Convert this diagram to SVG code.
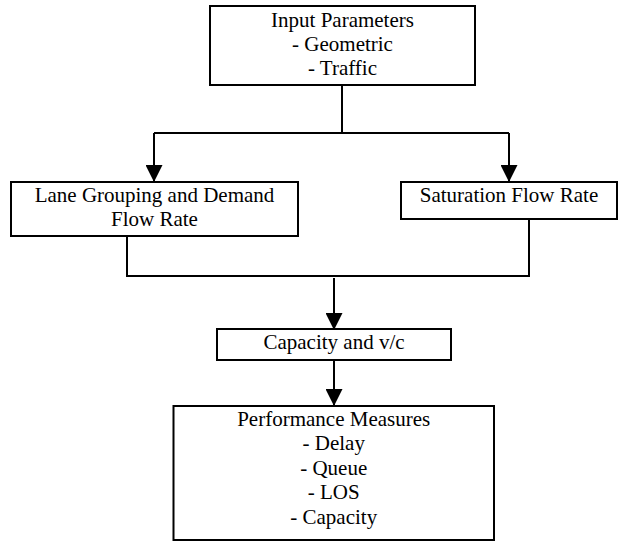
<svg xmlns="http://www.w3.org/2000/svg" width="620" height="542" viewBox="0 0 620 542">
  <defs>
    <marker id="arrow" markerUnits="userSpaceOnUse" markerWidth="17" markerHeight="17" refX="16" refY="8.5" orient="auto">
      <path d="M0,0 L17,8.5 L0,17 Z" fill="#000000"/>
    </marker>
  </defs>
  <rect width="620" height="542" fill="#ffffff"/>

  <g id="connectors" fill="none" stroke="#000000" stroke-width="2">
    <path d="M342,85 V133"/>
    <path d="M154,133 H509"/>
    <path d="M154,133 V181" marker-end="url(#arrow)"/>
    <path d="M509,133 V181" marker-end="url(#arrow)"/>
    <path d="M127,236 V276 H529 V219"/>
    <path d="M334,278 V329" marker-end="url(#arrow)"/>
    <path d="M334,361 V405" marker-end="url(#arrow)"/>
  </g>

  <g id="nodes" font-family="Liberation Serif" font-size="21" text-anchor="middle">
    <g id="input-parameters">
      <rect x="210" y="6" width="265" height="79" fill="#ffffff" stroke="#000000" stroke-width="2"/>
      <text x="342.5" y="27" fill="#000000">Input Parameters</text>
      <text x="342.5" y="51" fill="#000000">- Geometric</text>
      <text x="342.5" y="75" fill="#000000">- Traffic</text>
    </g>

    <g id="lane-grouping">
      <rect x="11" y="182" width="287" height="54" fill="#ffffff" stroke="#000000" stroke-width="2"/>
      <text x="154.5" y="202" fill="#000000">Lane Grouping and Demand</text>
      <text x="154.5" y="226" fill="#000000">Flow Rate</text>
    </g>

    <g id="saturation-flow">
      <rect x="401" y="182" width="216" height="37" fill="#ffffff" stroke="#000000" stroke-width="2"/>
      <text x="509" y="202" fill="#000000">Saturation Flow Rate</text>
    </g>

    <g id="capacity">
      <rect x="217" y="329" width="234" height="31" fill="#ffffff" stroke="#000000" stroke-width="2"/>
      <text x="334" y="349" fill="#000000">Capacity and v/c</text>
    </g>

    <g id="performance-measures">
      <rect x="173.5" y="406" width="320.5" height="134" fill="#ffffff" stroke="#000000" stroke-width="2"/>
      <text x="333.7" y="426" fill="#000000">Performance Measures</text>
      <text x="333.7" y="450" fill="#000000">- Delay</text>
      <text x="333.7" y="475" fill="#000000">- Queue</text>
      <text x="333.7" y="499" fill="#000000">- LOS</text>
      <text x="333.7" y="524" fill="#000000">- Capacity</text>
    </g>
  </g>
</svg>
